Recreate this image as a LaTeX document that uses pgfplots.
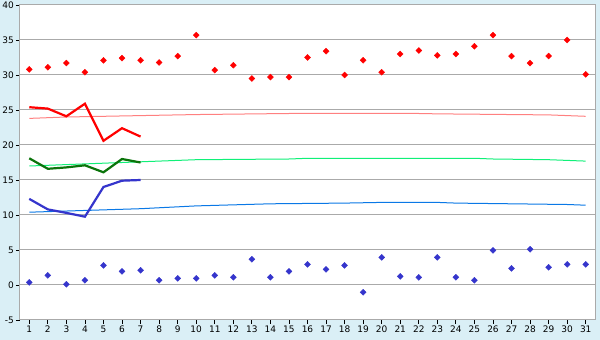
\documentclass[border=0pt]{standalone}
\usepackage{fontspec}
\setmainfont{DejaVu Sans}
\usepackage{pgfplots}
\pgfplotsset{compat=1.18}
\definecolor{bgblue}{HTML}{DAEFF6}
\definecolor{gridgrey}{HTML}{AAAAAA}
\definecolor{maxred}{HTML}{FF0000}
\definecolor{minblue}{HTML}{3535CC}
\definecolor{avggreen}{HTML}{0A740A}
\definecolor{normred}{HTML}{FF8080}
\definecolor{normgreen}{HTML}{10F078}
\definecolor{normblue}{HTML}{0A78E6}
\begin{document}
\fontsize{9}{11}\selectfont
\begin{tikzpicture}[x=1pt,y=1pt]
\fill[bgblue] (-20,-20) rectangle (580,320);
\useasboundingbox (-20,-20) rectangle (580,320);
\begin{axis}[
  at={(0,0)}, anchor=south west,
  scale only axis, width=575pt, height=315pt,
  xmin=0.5, xmax=31.5, ymin=-5, ymax=40,
  xtick={1,...,31}, ytick={-5,0,...,40},
  axis background/.style={fill=white},
  axis line style={gridgrey, line width=1pt},
  ymajorgrids, major grid style={gridgrey, line width=1pt},
  tick align=outside, major tick length=4pt,
  xtick pos=bottom, ytick pos=left,
  tick style={black, line width=0.8pt},
  /pgf/number format/assume math mode=true,
  ticklabel style={font=\fontsize{9}{11}\selectfont},
  xticklabel style={yshift=1pt},
  yticklabel style={xshift=1pt},
  clip=false,
]
% normals
\addplot[normred, line width=1pt] coordinates {(1,23.8)(3,24.0)(6,24.15)(10,24.35)(15,24.5)(22,24.5)(23,24.45)(25,24.4)(29,24.3)(30,24.2)(31,24.1)};
\addplot[normgreen, line width=1pt] coordinates {(1,17.0)(3,17.2)(5,17.4)(9,17.8)(10,17.9)(15,18.0)(16,18.1)(25,18.1)(26,18.0)(29,17.9)(30,17.8)(31,17.7)};
\addplot[normblue, line width=1pt] coordinates {(1,10.4)(4,10.65)(7,10.9)(10,11.3)(12,11.45)(14,11.6)(18,11.7)(20,11.8)(23,11.8)(24,11.7)(30,11.5)(31,11.4)};
% observed lines
\addplot[maxred, line width=2.2pt] coordinates {(1,25.4)(2,25.2)(3,24.1)(4,25.9)(5,20.6)(6,22.4)(7,21.2)};
\addplot[avggreen, line width=2.2pt] coordinates {(1,18.1)(2,16.6)(3,16.8)(4,17.1)(5,16.1)(6,18.0)(7,17.5)};
\addplot[minblue, line width=2.2pt] coordinates {(1,12.3)(2,10.8)(3,10.3)(4,9.76)(5,14.0)(6,14.9)(7,15.0)};
% max markers
\addplot[only marks, mark=square*, mark size=2.1pt, maxred, mark options={fill=maxred, rotate=45}] coordinates {
(1,30.8)(2,31.1)(3,31.7)(4,30.4)(5,32.1)(6,32.4)(7,32.1)(8,31.8)(9,32.7)(10,35.7)
(11,30.7)(12,31.4)(13,29.5)(14,29.7)(15,29.7)(16,32.5)(17,33.4)(18,30.0)(19,32.1)(20,30.4)
(21,33.0)(22,33.5)(23,32.8)(24,33.0)(25,34.1)(26,35.7)(27,32.7)(28,31.7)(29,32.7)(30,35.0)(31,30.1)};
% min markers
\addplot[only marks, mark=square*, mark size=2.1pt, minblue, mark options={fill=minblue, rotate=45}] coordinates {
(1,0.38)(2,1.38)(3,0.1)(4,0.67)(5,2.8)(6,1.95)(7,2.1)(8,0.67)(9,0.95)(10,0.95)
(11,1.38)(12,1.1)(13,3.67)(14,1.1)(15,1.95)(16,2.95)(17,2.24)(18,2.8)(19,-1.05)(20,3.95)
(21,1.24)(22,1.1)(23,3.95)(24,1.1)(25,0.67)(26,4.95)(27,2.38)(28,5.1)(29,2.52)(30,2.95)(31,2.95)};
\end{axis}
\end{tikzpicture}
\end{document}
